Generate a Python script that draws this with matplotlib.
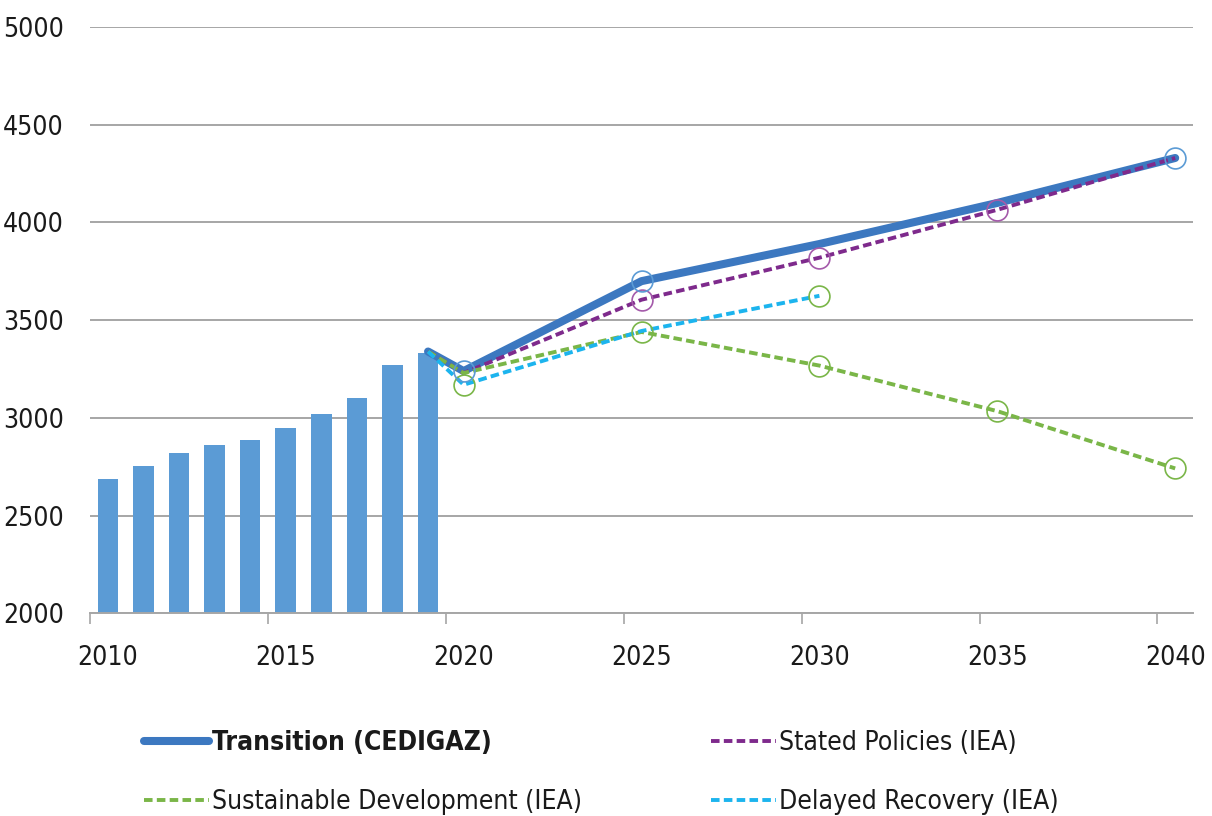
import matplotlib
matplotlib.use("Agg")
import matplotlib.pyplot as plt
import matplotlib.font_manager as fm
from matplotlib.lines import Line2D

# ── Font: prefer a narrow sans (closest to the Calibri look of the original) ──
narrow = [f for f in fm.fontManager.ttflist
          if ("Narrow" in f.fname or "Condensed" in f.fname) and f.style == "normal"]
narrow = [f for f in narrow if "Mono" not in f.fname and "Serif" not in f.fname]
if narrow:
    plt.rcParams['font.family'] = [narrow[0].name, 'DejaVu Sans']
    plt.rcParams['font.stretch'] = narrow[0].stretch
    FS = 19
else:
    plt.rcParams['font.family'] = ['Liberation Sans', 'DejaVu Sans']
    FS = 17

# ── Data ──────────────────────────────────────────────────────────
hist_years = [2010, 2011, 2012, 2013, 2014, 2015, 2016, 2017, 2018, 2019]
hist_demand = [2686, 2752, 2823, 2863, 2889, 2949, 3020, 3101, 3273, 3334]

scen_years = [2019, 2020, 2025, 2030, 2035, 2040]
transition = [3340, 3240, 3700, 3890, 4100, 4330]
stated = [3340, 3230, 3605, 3820, 4065, 4330]
sustainable = [3340, 3230, 3440, 3268, 3035, 2742]
delayed_years = [2019, 2020, 2025, 2030]
delayed = [3340, 3170, 3445, 3625]

# which points carry an open-circle marker (index into each series)
transition_marks = [1, 2, 5]
stated_marks = [2, 3, 4]
sustainable_marks = [2, 3, 4, 5]
delayed_marks = [1, 3]

tick_years = [2010, 2015, 2020, 2025, 2030, 2035, 2040]
y_ticks = [2000, 2500, 3000, 3500, 4000, 4500, 5000]

# ── Colours ───────────────────────────────────────────────────────
BAR = "#5B9BD5"
TRANS = "#3C78C0"
TRANS_MK = "#5B9BD5"
PURPLE = "#7E2A8C"
PURPLE_MK = "#A45AAA"
GREEN = "#7AB648"
CYAN = "#1CB4EE"
GRID = "#A6A6A6"
TEXT = "#1A1A1A"

fig = plt.figure(figsize=(12.12, 8.16), dpi=100)
ax = fig.add_axes([0.0743, 0.2482, 0.9100, 0.7187])

ax.bar(hist_years, hist_demand, width=0.58, color=BAR, zorder=2)

mk_kw = dict(ls="none", marker="o", ms=15, mfc="none", mew=1.2)
dash_kw = dict(lw=2.8, dashes=(2.2, 1.1))

# Transition (thick solid)
ax.plot(scen_years, transition, color=TRANS, lw=5.8, solid_capstyle="round",
        solid_joinstyle="round", zorder=3)
ax.plot(scen_years, transition, markevery=transition_marks, mec=TRANS_MK,
        zorder=7, **mk_kw)

# IEA scenarios (dashed)
ax.plot(scen_years, stated, color=PURPLE, zorder=4, **dash_kw)
ax.plot(scen_years, stated, markevery=stated_marks, mec=PURPLE_MK, zorder=6, **mk_kw)

ax.plot(scen_years, sustainable, color=GREEN, zorder=4, **dash_kw)
ax.plot(scen_years, sustainable, markevery=sustainable_marks, mec=GREEN, zorder=6, **mk_kw)

ax.plot(delayed_years, delayed, color=CYAN, zorder=4, **dash_kw)
ax.plot(delayed_years, delayed, markevery=delayed_marks, mec=GREEN, zorder=6, **mk_kw)

# ── Axes styling ──────────────────────────────────────────────────
ax.set_xlim(2009.5, 2040.5)
ax.set_ylim(2000, 5000)
ax.set_yticks(y_ticks)
ax.set_xticks(tick_years)
ax.set_xticks([y - 0.5 for y in tick_years], minor=True)
ax.tick_params(axis="x", which="major", length=0, pad=23, labelsize=FS, labelcolor=TEXT)
ax.tick_params(axis="x", which="minor", length=8, width=1.2, color=GRID, direction="out")
ax.tick_params(axis="y", length=0, pad=19, labelsize=FS, labelcolor=TEXT)

ax.grid(axis="y", color=GRID, lw=1.4, zorder=0)
ax.set_axisbelow(True)
for side in ["top", "right", "left"]:
    ax.spines[side].set_visible(False)
ax.spines["bottom"].set_color(GRID)
ax.spines["bottom"].set_linewidth(1.4)

# ── Legend: two columns placed separately ─────────────────────────
col1 = [Line2D([], [], color=TRANS, lw=5.8, solid_capstyle="round"),
        Line2D([], [], color=GREEN, **dash_kw)]
col2 = [Line2D([], [], color=PURPLE, **dash_kw),
        Line2D([], [], color=CYAN, **dash_kw)]
labels1 = ["Transition (CEDIGAZ)", "Sustainable Development (IEA)"]
labels2 = ["Stated Policies (IEA)", "Delayed Recovery (IEA)"]

leg_kw = dict(loc="upper left", frameon=False, fontsize=FS,
              handlelength=2.45, handletextpad=0.12, labelspacing=1.25,
              borderpad=0, borderaxespad=0)
leg1 = fig.legend(col1, labels1, bbox_to_anchor=(0.119, 0.1055), **leg_kw)
leg2 = fig.legend(col2, labels2, bbox_to_anchor=(0.587, 0.1055), **leg_kw)
for leg in (leg1, leg2):
    for t in leg.get_texts():
        t.set_color(TEXT)
leg1.get_texts()[0].set_fontweight("bold")

fig.savefig("out.png", dpi=100)
